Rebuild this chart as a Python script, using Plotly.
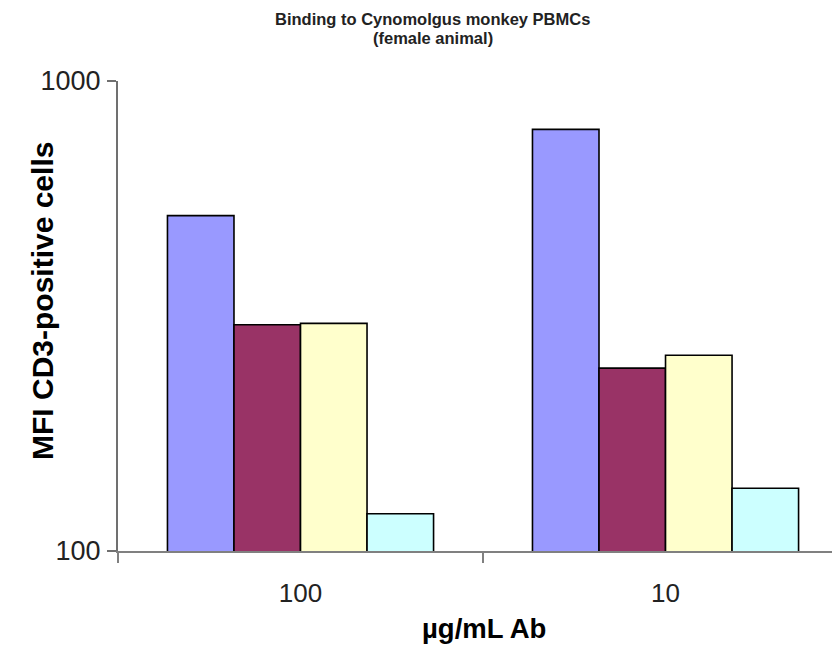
import plotly.graph_objects as go

# ---- data ----
concentrations = ["100", "10"]          # µg/mL Ab (x categories)
series_a = [517, 789]                   # periwinkle bars
series_b = [303, 245]                   # maroon bars
series_c = [305, 261]                   # light yellow bars
series_d = [120, 136]                   # light cyan bars
series_values = [series_a, series_b, series_c, series_d]
series_colors = ["#9999FF", "#993366", "#FFFFCC", "#CCFFFF"]
y_tick_values = [100, 1000]
y_tick_labels = ["100", "1000"]
title_lines = ["Binding to Cynomolgus monkey PBMCs", "(female animal)"]

FONT = "Liberation Sans, Arial, sans-serif"

# page body has an 8px margin; work in screen pixels and convert
OFF = 8
W, H = 840 - OFF, 645 - OFF
L = 118 - OFF
T = 81 - OFF
R = 0
plot_bottom = 551 - OFF
B = H - plot_bottom
pw = W - L - R
ph = H - T - B


def px_x(sx):
    return (sx - OFF - L) / pw


def px_y(sy):
    return 1 - (sy - OFF - T) / ph


fig = go.Figure()
for vals, col in zip(series_values, series_colors):
    fig.add_trace(go.Bar(
        x=concentrations, y=vals,
        marker=dict(color=col, line=dict(color="#000000", width=1.6)),
        showlegend=False,
    ))

fig.update_layout(
    width=W, height=H,
    margin=dict(l=L, r=R, t=T, b=B, pad=0),
    paper_bgcolor="white", plot_bgcolor="white",
    barmode="group", bargap=0.271, bargroupgap=0,
    font=dict(family=FONT, color="#000000"),
    xaxis=dict(
        type="category",
        range=[-0.5, 1.478],
        showline=True, linecolor="#808080", linewidth=2,
        ticks="outside", tickson="boundaries", ticklen=10, tickwidth=2,
        tickcolor="#808080",
        tickfont=dict(size=26, family=FONT, color="#222222"),
        ticklabelstandoff=18,
        showgrid=False, zeroline=False,
    ),
    yaxis=dict(
        type="log", range=[2, 3],
        tickvals=y_tick_values, ticktext=y_tick_labels,
        showline=True, linecolor="#707070", linewidth=2,
        ticks="outside", ticklen=9, tickwidth=2, tickcolor="#707070",
        tickfont=dict(size=27, family=FONT, color="#222222"),
        ticklabelstandoff=1,
        showgrid=True, gridcolor="#a6a6a6", gridwidth=2,
        zeroline=False,
    ),
    annotations=[
        dict(text=title_lines[0], xref="paper", yref="paper",
             x=px_x(432.5), y=px_y(19.5), xanchor="center", yanchor="middle",
             showarrow=False,
             font=dict(size=16.5, family=FONT, color="#222222", weight="bold")),
        dict(text=title_lines[1], xref="paper", yref="paper",
             x=px_x(432.5), y=px_y(38), xanchor="center", yanchor="middle",
             showarrow=False,
             font=dict(size=16.5, family=FONT, color="#222222", weight="bold")),
        dict(text="<b>µg/mL Ab</b>", xref="paper", yref="paper",
             x=px_x(484), y=px_y(628),
             xanchor="center", yanchor="middle", showarrow=False,
             font=dict(size=27.5, family=FONT, color="#000000")),
        dict(text="<b>MFI CD3-positive cells</b>", xref="paper", yref="paper",
             x=px_x(42.5), y=px_y(301.5),
             xanchor="center", yanchor="middle", showarrow=False, textangle=-90,
             font=dict(size=30, family=FONT, color="#000000")),
    ],
)

fig.write_html("out.html")
